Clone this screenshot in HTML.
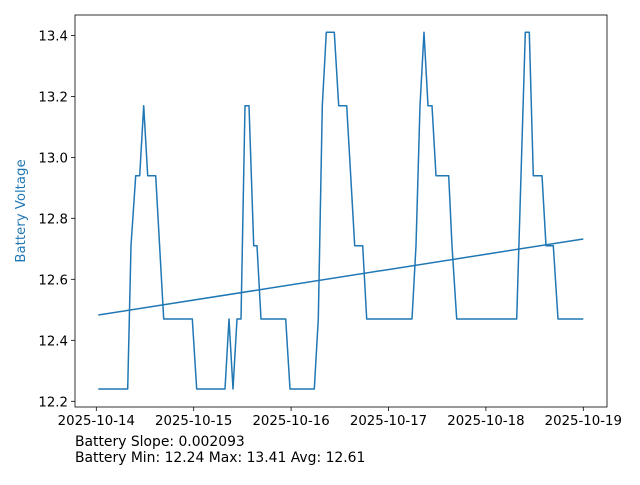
<!DOCTYPE html>
<html><head><meta charset="utf-8"><style>body{margin:0;background:#fff}</style></head><body>
<svg width="640" height="480" xmlns="http://www.w3.org/2000/svg" font-family="DejaVu Sans, sans-serif" font-size="13.3">
<rect width="640" height="480" fill="#fff"/>
<g fill="#000" text-anchor="end">
<g stroke="#000" stroke-width="0.8">
<line x1="71" y1="35.4" x2="75" y2="35.4"/><line x1="71" y1="96.4" x2="75" y2="96.4"/><line x1="71" y1="157.4" x2="75" y2="157.4"/><line x1="71" y1="218.3" x2="75" y2="218.3"/><line x1="71" y1="279.3" x2="75" y2="279.3"/><line x1="71" y1="340.3" x2="75" y2="340.3"/><line x1="71" y1="401.3" x2="75" y2="401.3"/>
</g>
<text x="68" y="40.4">13.4</text><text x="68" y="101.4">13.2</text><text x="68" y="162.4">13.0</text><text x="68" y="223.3">12.8</text><text x="68" y="284.3">12.6</text><text x="68" y="345.3">12.4</text><text x="68" y="406.3">12.2</text>
</g>
<g stroke="#000" stroke-width="0.8">
<line x1="96.3" y1="407" x2="96.3" y2="411"/><line x1="193.7" y1="407" x2="193.7" y2="411"/><line x1="291.1" y1="407" x2="291.1" y2="411"/><line x1="388.5" y1="407" x2="388.5" y2="411"/><line x1="485.9" y1="407" x2="485.9" y2="411"/><line x1="583.3" y1="407" x2="583.3" y2="411"/>
</g>
<g fill="#000" text-anchor="middle">
<text x="96.3" y="425">2025-10-14</text><text x="193.7" y="425">2025-10-15</text><text x="291.1" y="425">2025-10-16</text><text x="388.5" y="425">2025-10-17</text><text x="485.9" y="425">2025-10-18</text><text x="583.3" y="425">2025-10-19</text>
</g>
<text transform="translate(25,211) rotate(-90)" text-anchor="middle" fill="#1f77b4">Battery Voltage</text>
<g fill="none" stroke="#1f77b4" stroke-width="1.5" stroke-linejoin="round">
<polyline points="98.3,389 127.7,389 131,245.7 135.7,175.7 139.7,175.7 143.7,105.7 147.7,175.7 155.7,175.7 163.7,319 192.3,319 196.7,389 225,389 229,319 233,389 237,319 241,319 245,105.7 249,105.7 253.7,245.7 257,245.7 261,319 285.7,319 290,389 314.3,389 318.3,319 322.3,105.7 326.3,32.3 334.3,32.3 338.7,105.7 346.7,105.7 354.7,245.7 362.7,245.7 366.7,319 412,319 416,245.7 420,105.7 424,32.3 428,105.7 432,105.7 436,175.7 448.7,175.7 452,245.7 456.7,319 516.7,319 525.3,32.3 529.3,32.3 533.3,175.7 542,175.7 546,245.7 553.3,245.7 558,319 583.3,319"/>
<line x1="98.3" y1="315" x2="583.3" y2="239"/>
</g>
<rect x="75" y="15" width="532" height="392" fill="none" stroke="#000" stroke-width="0.8"/>
<text x="75" y="446" fill="#000" font-size="13.9">Battery Slope: 0.002093</text>
<text x="75" y="462" fill="#000" font-size="13.9">Battery Min: 12.24 Max: 13.41 Avg: 12.61</text>
</svg>
</body></html>
